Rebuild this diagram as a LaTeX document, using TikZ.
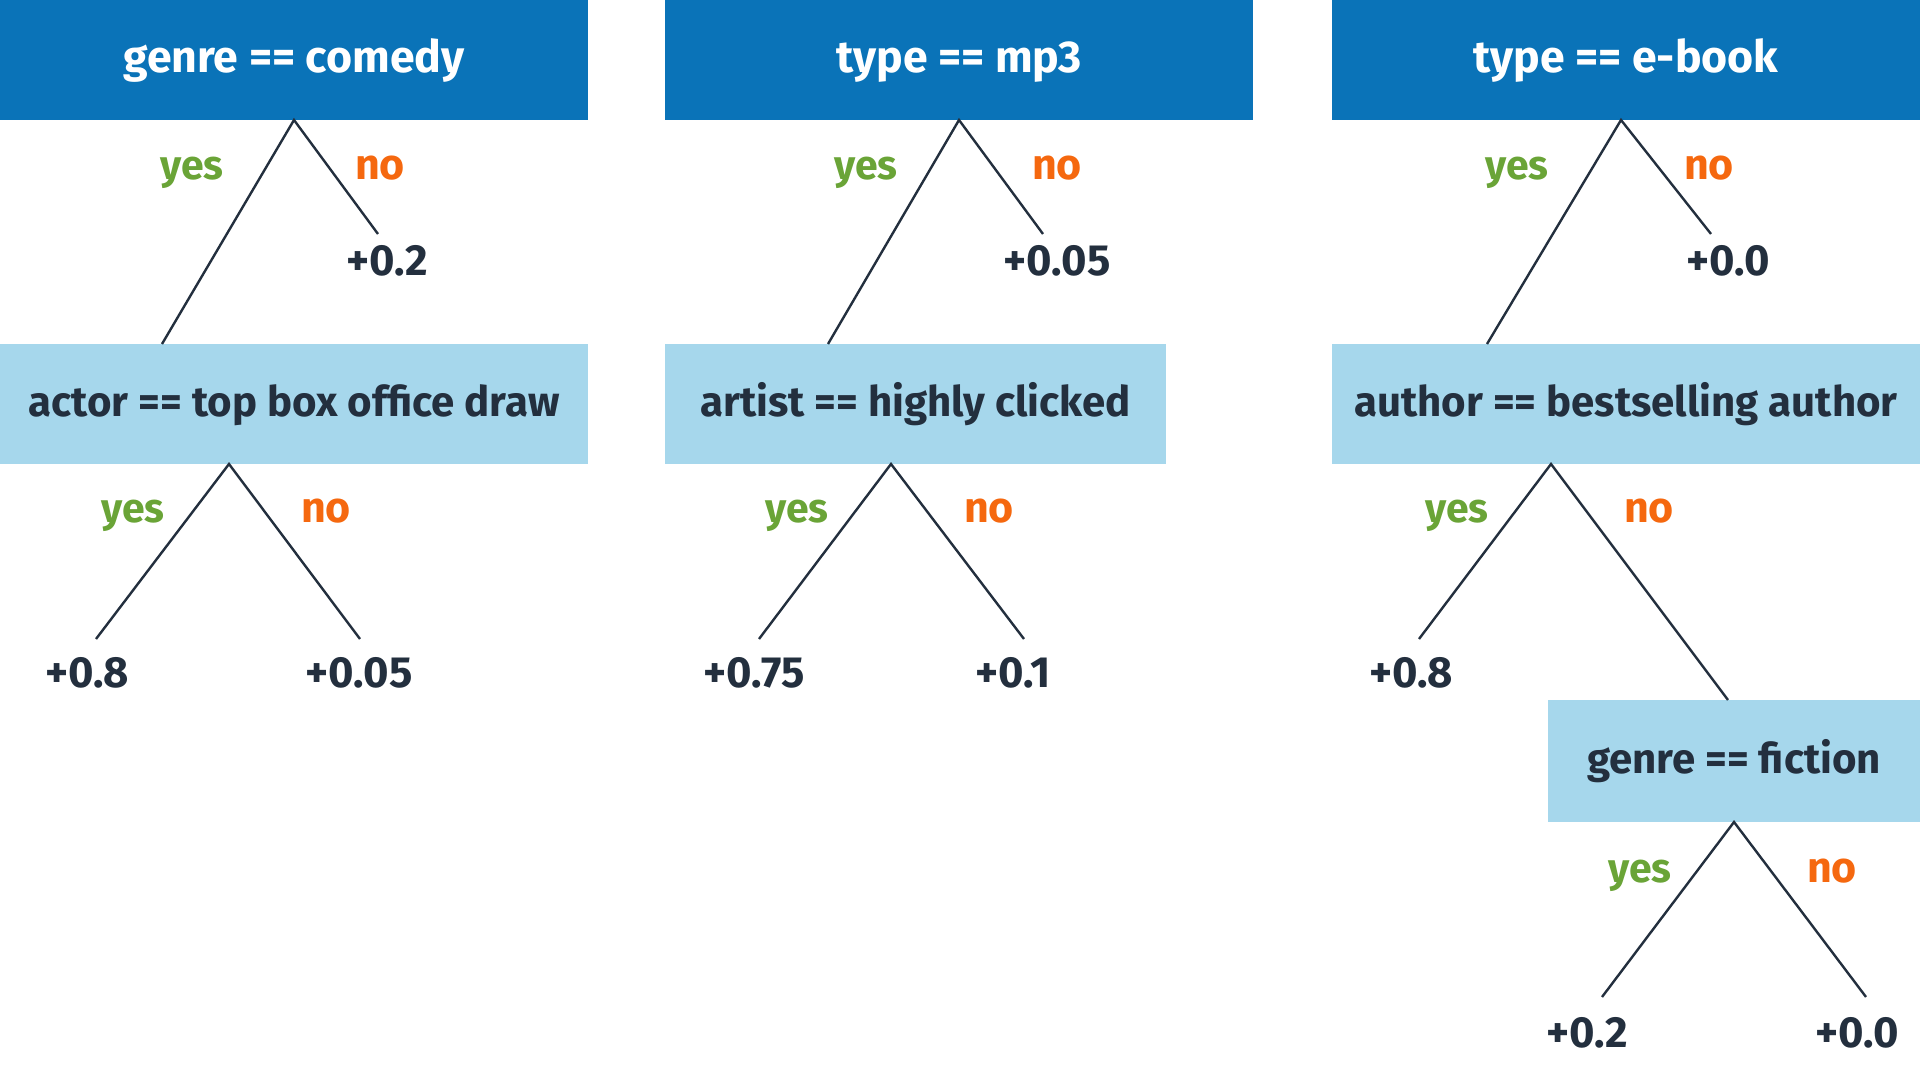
\documentclass[tikz,border=0pt]{standalone}
\usepackage{fontspec}
\setmainfont{Fira Sans}
\definecolor{darkblue}{HTML}{0A73B8}
\definecolor{lightblue}{HTML}{A6D7EC}
\definecolor{ink}{HTML}{232F3E}
\definecolor{yesgreen}{HTML}{6AA437}
\definecolor{noorange}{HTML}{F5680F}
\begin{document}
\begin{tikzpicture}[x=0.5pt,y=-0.5pt,
  txt/.style={font=\bfseries\fontsize{21.8}{26}\selectfont, inner sep=0pt, text depth=0pt, anchor=center},
  topbox/.style={txt, font=\bfseries\fontsize{22.3}{26}\selectfont, text height=13pt, fill=darkblue, text=white, minimum height=60pt},
  subbox/.style={txt, font=\bfseries\fontsize{21}{26}\selectfont, text height=12.5pt, fill=lightblue, text=ink, minimum height=60pt},
  val/.style={txt, text=ink},
  yeslbl/.style={txt, text=yesgreen, font=\bfseries\fontsize{20.5}{24}\selectfont, yshift=-1.5pt},
  nolbl/.style={txt, text=noorange, font=\bfseries\fontsize{21.5}{24}\selectfont, yshift=-1.5pt},
  edge/.style={draw=ink, line width=1.2pt}]
\useasboundingbox (0,0) rectangle (1920,1080);
% boxes
\node[topbox, minimum width=294pt] (t1) at (294,60) {genre == comedy};
\node[topbox, minimum width=294pt] (t2) at (959,60) {type == mp3};
\node[topbox, minimum width=294pt] (t3) at (1626,60) {type == e-book};
\node[subbox, minimum width=294pt] (a) at (294,404) {actor == top box office draw};
\node[subbox, minimum width=250.5pt] (b) at (915.5,404) {artist == highly clicked};
\node[subbox, minimum width=294pt] (c) at (1626,404) {author == bestselling author};
\node[subbox, minimum width=186pt, minimum height=61pt] (d) at (1734,761) {genre == fiction};
% values
\node[val] (v1) at (387,260) {+0.2};
\node[val] (v2) at (87,672) {+0.8};
\node[val] (v3) at (359,672) {+0.05};
\node[val] (v4) at (1057,260) {+0.05};
\node[val] (v5) at (754,672) {+0.75};
\node[val] (v6) at (1013,672) {+0.1};
\node[val] (v7) at (1728,260) {+0.0};
\node[val] (v8) at (1411,672) {+0.8};
\node[val] (v9) at (1587,1032) {+0.2};
\node[val] (v10) at (1857,1032) {+0.0};
% labels
\node[yeslbl] (y1) at (192,165) {yes};  \node[nolbl] (n1) at (380,165) {no};
\node[yeslbl] (y2) at (133,508) {yes};  \node[nolbl] (n2) at (326,508) {no};
\node[yeslbl] (y3) at (866,165) {yes};  \node[nolbl] (n3) at (1057,165) {no};
\node[yeslbl] (y4) at (797,508) {yes};  \node[nolbl] (n4) at (989,508) {no};
\node[yeslbl] (y5) at (1517,165) {yes}; \node[nolbl] (n5) at (1709,165) {no};
\node[yeslbl] (y6) at (1457,508) {yes}; \node[nolbl] (n6) at (1649,508) {no};
\node[yeslbl] (y7) at (1640,868) {yes}; \node[nolbl] (n7) at (1832,868) {no};
% apex and end coordinates
\coordinate (pt1) at (294,120);
\coordinate (pt2) at (959,120);
\coordinate (pt3) at (1621,120);
\coordinate (pa) at (229,464);
\coordinate (pb) at (891,464);
\coordinate (pc) at (1551,464);
\coordinate (pd) at (1734,822);
\coordinate (ea) at (162,344);
\coordinate (eb) at (828,344);
\coordinate (ec) at (1487,344);
\coordinate (ed) at (1728,700);
\coordinate (e1) at (378,234);
\coordinate (e2) at (96,639);
\coordinate (e3) at (360,639);
\coordinate (e4) at (1043,234);
\coordinate (e5) at (759,639);
\coordinate (e6) at (1024,639);
\coordinate (e7) at (1711,234);
\coordinate (e8) at (1419,639);
\coordinate (e9) at (1602,997);
\coordinate (e10) at (1866,997);
% connectors
\draw[edge] (ea) -- (pt1) -- (e1);
\draw[edge] (e2) -- (pa) -- (e3);
\draw[edge] (eb) -- (pt2) -- (e4);
\draw[edge] (e5) -- (pb) -- (e6);
\draw[edge] (ec) -- (pt3) -- (e7);
\draw[edge] (e8) -- (pc) -- (ed);
\draw[edge] (e9) -- (pd) -- (e10);
\end{tikzpicture}
\end{document}
